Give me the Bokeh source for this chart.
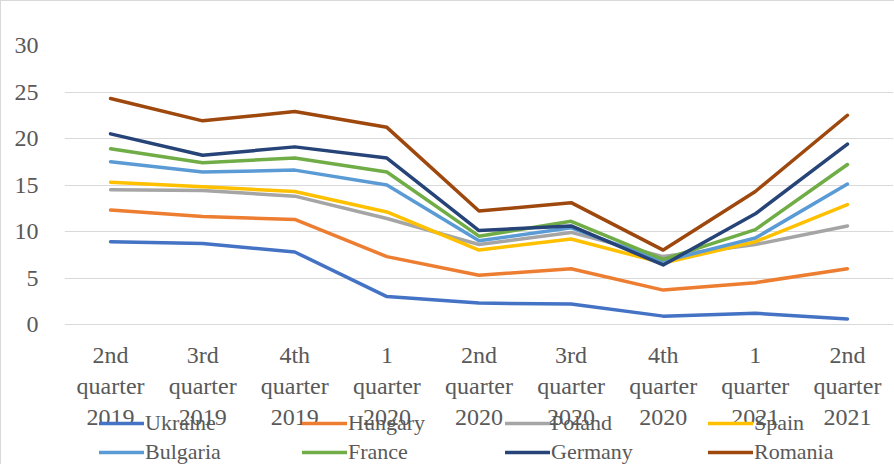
from bokeh.plotting import figure
from bokeh.models import Range1d, FactorRange, Legend, LegendItem, FixedTicker, CategoricalAxis
from bokeh.embed import file_html
from bokeh.resources import INLINE

categories = ["2nd\nquarter\n2019", "3rd\nquarter\n2019", "4th\nquarter\n2019",
              "1\nquarter\n2020", "2nd\nquarter\n2020", "3rd\nquarter\n2020",
              "4th\nquarter\n2020", "1\nquarter\n2021", "2nd\nquarter\n2021"]

ukraine = [8.9, 8.7, 7.8, 3.0, 2.3, 2.2, 0.9, 1.2, 0.6]
hungary = [12.3, 11.6, 11.3, 7.3, 5.3, 6.0, 3.7, 4.5, 6.0]
poland = [14.5, 14.4, 13.8, 11.4, 8.6, 9.9, 7.3, 8.6, 10.6]
spain = [15.3, 14.8, 14.3, 12.1, 8.0, 9.2, 6.6, 8.9, 12.9]
bulgaria = [17.5, 16.4, 16.6, 15.0, 9.0, 10.4, 6.8, 9.3, 15.1]
france = [18.9, 17.4, 17.9, 16.4, 9.5, 11.1, 7.0, 10.2, 17.2]
germany = [20.5, 18.2, 19.1, 17.9, 10.1, 10.6, 6.4, 11.9, 19.4]
romania = [24.3, 21.9, 22.9, 21.2, 12.2, 13.1, 8.0, 14.3, 22.5]

series_names = ["Ukraine", "Hungary", "Poland", "Spain", "Bulgaria", "France", "Germany", "Romania"]
series_values = [ukraine, hungary, poland, spain, bulgaria, france, germany, romania]
series_colors = ["#4472C4", "#ED7D31", "#A5A5A5", "#FFC000", "#5B9BD5", "#70AD47", "#264478", "#9E480E"]
y_ticks = [0, 5, 10, 15, 20, 25, 30]

FONT = "Liberation Serif"
TXT = "#595959"

# frame spans from y=30 (top) down to the bottom of the canvas; 0 sits at 323px
Y_MIN = -141 / 9.3

p = figure(width=894, height=464, x_range=FactorRange(factors=categories, range_padding=0),
           y_range=Range1d(Y_MIN, 30), output_backend="svg", toolbar_location=None,
           x_axis_location=None,
           min_border_left=63, min_border_right=2, min_border_top=44, min_border_bottom=0)
p.outline_line_color = None
p.background_fill_color = "white"
p.border_fill_color = "white"
p.styles = {"border-left": "1px solid #d9d9d9", "border-top": "1px solid #d9d9d9"}

items = []
for name, vals, col in zip(series_names, series_values, series_colors):
    r = p.line(categories, vals, line_color=col, line_width=3.5, line_join="round", line_cap="round")
    items.append(LegendItem(label=name, renderers=[r]))

xaxis = CategoricalAxis(fixed_location=0)
p.add_layout(xaxis, "below")

p.xgrid.grid_line_color = None
p.ygrid.grid_line_color = "#d9d9d9"
p.ygrid.grid_line_width = 1
p.yaxis.ticker = FixedTicker(ticks=y_ticks)

for ax in (xaxis, p.yaxis[0]):
    ax.axis_line_color = None
    ax.major_tick_line_color = None
    ax.minor_tick_line_color = None
    ax.major_label_text_font = FONT
    ax.major_label_text_font_size = "24px"
    ax.major_label_text_color = TXT
p.yaxis.major_label_standoff = 20
xaxis.major_label_standoff = 11

legend = Legend(items=items, orientation="horizontal", ncols=4, location=(35, 0),
                label_text_font=FONT, label_text_font_size="22px", label_text_color=TXT,
                glyph_width=45, glyph_height=20, label_width=154, label_height=20,
                label_standoff=1, spacing=3, padding=0, margin=0, border_line_color=None,
                background_fill_alpha=0)
p.add_layout(legend, "center")

open("out.html", "w").write(file_html(p, INLINE))
